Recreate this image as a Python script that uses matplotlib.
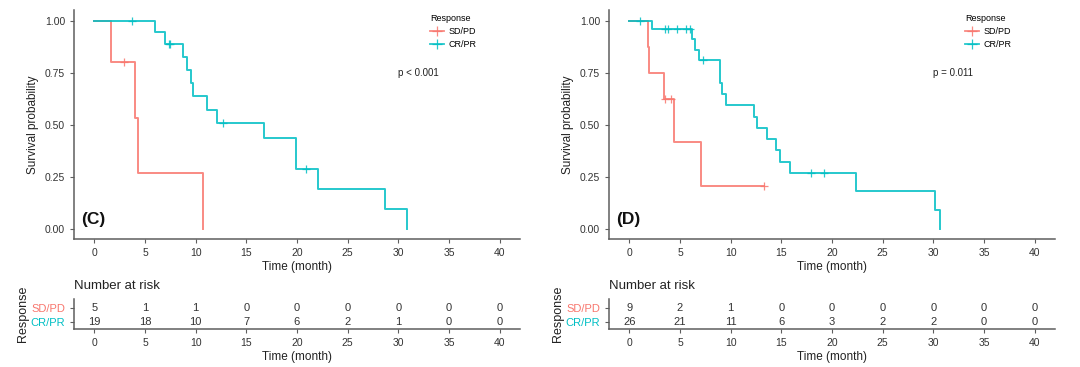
import matplotlib
matplotlib.use("Agg")
import matplotlib.pyplot as plt
from matplotlib.lines import Line2D

plt.rcParams['font.family'] = ['Liberation Sans', 'DejaVu Sans']

RED = '#F8766D'
TEAL = '#00BFC4'
AX = '#5e5e5e'

groups = ['SD/PD', 'CR/PR']
time_ticks = [0, 5, 10, 15, 20, 25, 30, 35, 40]
y_ticks = [0.00, 0.25, 0.50, 0.75, 1.00]

# Panel C
C_sd_t = [0, 1.67, 3.98, 4.32, 10.77]
C_sd_s = [1.0, 0.80, 0.533, 0.267, 0.0]
C_sd_ct = [2.96]
C_sd_cs = [0.80]
C_cr_t = [0, 5.95, 6.97, 8.73, 9.18, 9.52, 9.75, 11.11, 12.06, 16.72, 19.95, 22.06, 28.72, 30.82]
C_cr_s = [1.0, 0.944, 0.889, 0.827, 0.765, 0.702, 0.637, 0.573, 0.508, 0.435, 0.290, 0.193, 0.097, 0.0]
C_cr_ct = [3.70, 7.34, 7.51, 12.74, 20.87]
C_cr_cs = [1.0, 0.889, 0.889, 0.508, 0.290]
C_risk_sd = [5, 1, 1, 0, 0, 0, 0, 0, 0]
C_risk_cr = [19, 18, 10, 7, 6, 2, 1, 0, 0]
C_p = 'p < 0.001'

# Panel D
D_sd_t = [0, 1.85, 1.95, 3.45, 4.40, 7.10, 13.3]
D_sd_s = [1.0, 0.875, 0.75, 0.625, 0.417, 0.208, 0.208]
D_sd_ct = [3.55, 4.10, 13.3]
D_sd_cs = [0.625, 0.625, 0.208]
D_cr_t = [0, 2.25, 6.2, 6.45, 6.85, 8.95, 9.15, 9.5, 12.3, 12.6, 13.6, 14.5, 14.9, 15.9, 22.4, 30.2, 30.65]
D_cr_s = [1.0, 0.962, 0.91, 0.86, 0.81, 0.70, 0.647, 0.593, 0.539, 0.485, 0.431, 0.377, 0.323, 0.269, 0.18, 0.09, 0.0]
D_cr_ct = [1.05, 3.5, 3.8, 4.7, 5.6, 6.0, 7.25, 17.97, 19.17]
D_cr_cs = [1.0, 0.962, 0.962, 0.962, 0.962, 0.962, 0.81, 0.269, 0.269]
D_risk_sd = [9, 2, 1, 0, 0, 0, 0, 0, 0]
D_risk_cr = [26, 21, 11, 6, 3, 2, 2, 0, 0]
D_p = 'p = 0.011'

panels = [
    dict(label='(C)', sd=(C_sd_t, C_sd_s, C_sd_ct, C_sd_cs), cr=(C_cr_t, C_cr_s, C_cr_ct, C_cr_cs),
         risk=(C_risk_sd, C_risk_cr), p=C_p),
    dict(label='(D)', sd=(D_sd_t, D_sd_s, D_sd_ct, D_sd_cs), cr=(D_cr_t, D_cr_s, D_cr_ct, D_cr_cs),
         risk=(D_risk_sd, D_risk_cr), p=D_p),
]

W, H = 1080, 367
fig = plt.figure(figsize=(W / 100, H / 100), dpi=100)


def style_axis(ax):
    for s in ['top', 'right']:
        ax.spines[s].set_visible(False)
    for s in ['left', 'bottom']:
        ax.spines[s].set_color(AX)
        ax.spines[s].set_linewidth(1.1)
    ax.tick_params(colors=AX, length=3, width=0.8, labelcolor='#333333', labelsize=7.5)


offsets = [0, 535]
for off, pn in zip(offsets, panels):
    left = (74 + off) / W
    width = 446 / W
    ax = fig.add_axes([left, 1 - 239.3 / H, width, (239.3 - 10.3) / H])
    for (t, s, ct, cs), col in [(pn['sd'], RED), (pn['cr'], TEAL)]:
        ax.step(t, s, where='post', color=col, lw=1.4, alpha=0.85)
        ax.plot(ct, cs, ls='none', marker='+', color=col, markersize=6, mew=0.9, alpha=0.85)
    ax.set_xlim(-2, 42)
    ax.set_ylim(-0.05, 1.05)
    ax.set_xticks(time_ticks)
    ax.set_yticks(y_ticks)
    ax.set_yticklabels(['%.2f' % v for v in y_ticks])
    style_axis(ax)
    ax.set_xlabel('Time (month)', fontsize=8.5, color='#222222', labelpad=2)
    ax.set_ylabel('Survival probability', fontsize=8.5, color='#222222', labelpad=4)
    ax.text(30, 0.75, pn['p'], fontsize=7, color='#222222', ha='left', va='center')
    ax.text(0.015, 0.085, pn['label'], transform=ax.transAxes, fontsize=12.5,
            fontweight='bold', ha='left', va='center', color='#111111')
    handles = [Line2D([0], [0], color=c, lw=1.3, marker='+', markersize=7, mew=0.9, alpha=0.85)
               for c in (RED, TEAL)]
    leg = ax.legend(handles, groups, title='Response', loc='upper left',
                    bbox_to_anchor=(0.79, 1.0), frameon=False, fontsize=6.5,
                    title_fontsize=6.5, handlelength=1.6, handletextpad=0.5,
                    labelspacing=0.45, borderaxespad=0.0)
    leg._legend_box.align = 'left'

    # risk table
    at = fig.add_axes([left, 1 - 329 / H, width, 30 / H])
    sd_r, cr_r = pn['risk']
    for x, n in zip(time_ticks, sd_r):
        at.text(x, 2, str(n), ha='center', va='center', fontsize=8, color='#333333')
    for x, n in zip(time_ticks, cr_r):
        at.text(x, 1, str(n), ha='center', va='center', fontsize=8, color='#333333')
    at.set_xlim(-2, 42)
    at.set_ylim(0.5, 2.64)
    at.set_xticks(time_ticks)
    at.set_yticks([2, 1])
    at.set_yticklabels(groups)
    style_axis(at)
    for lab, c in zip(at.get_yticklabels(), (RED, TEAL)):
        lab.set_color(c)
        lab.set_fontsize(8)
    at.set_xlabel('Time (month)', fontsize=8.5, color='#222222', labelpad=2)
    at.set_ylabel('Response', fontsize=9, color='#222222', labelpad=1)
    fig.text((74 + off) / W, 1 - 286 / H, 'Number at risk', fontsize=9.5, color='#222222',
             ha='left', va='center')

fig.savefig('out.png', dpi=100)
